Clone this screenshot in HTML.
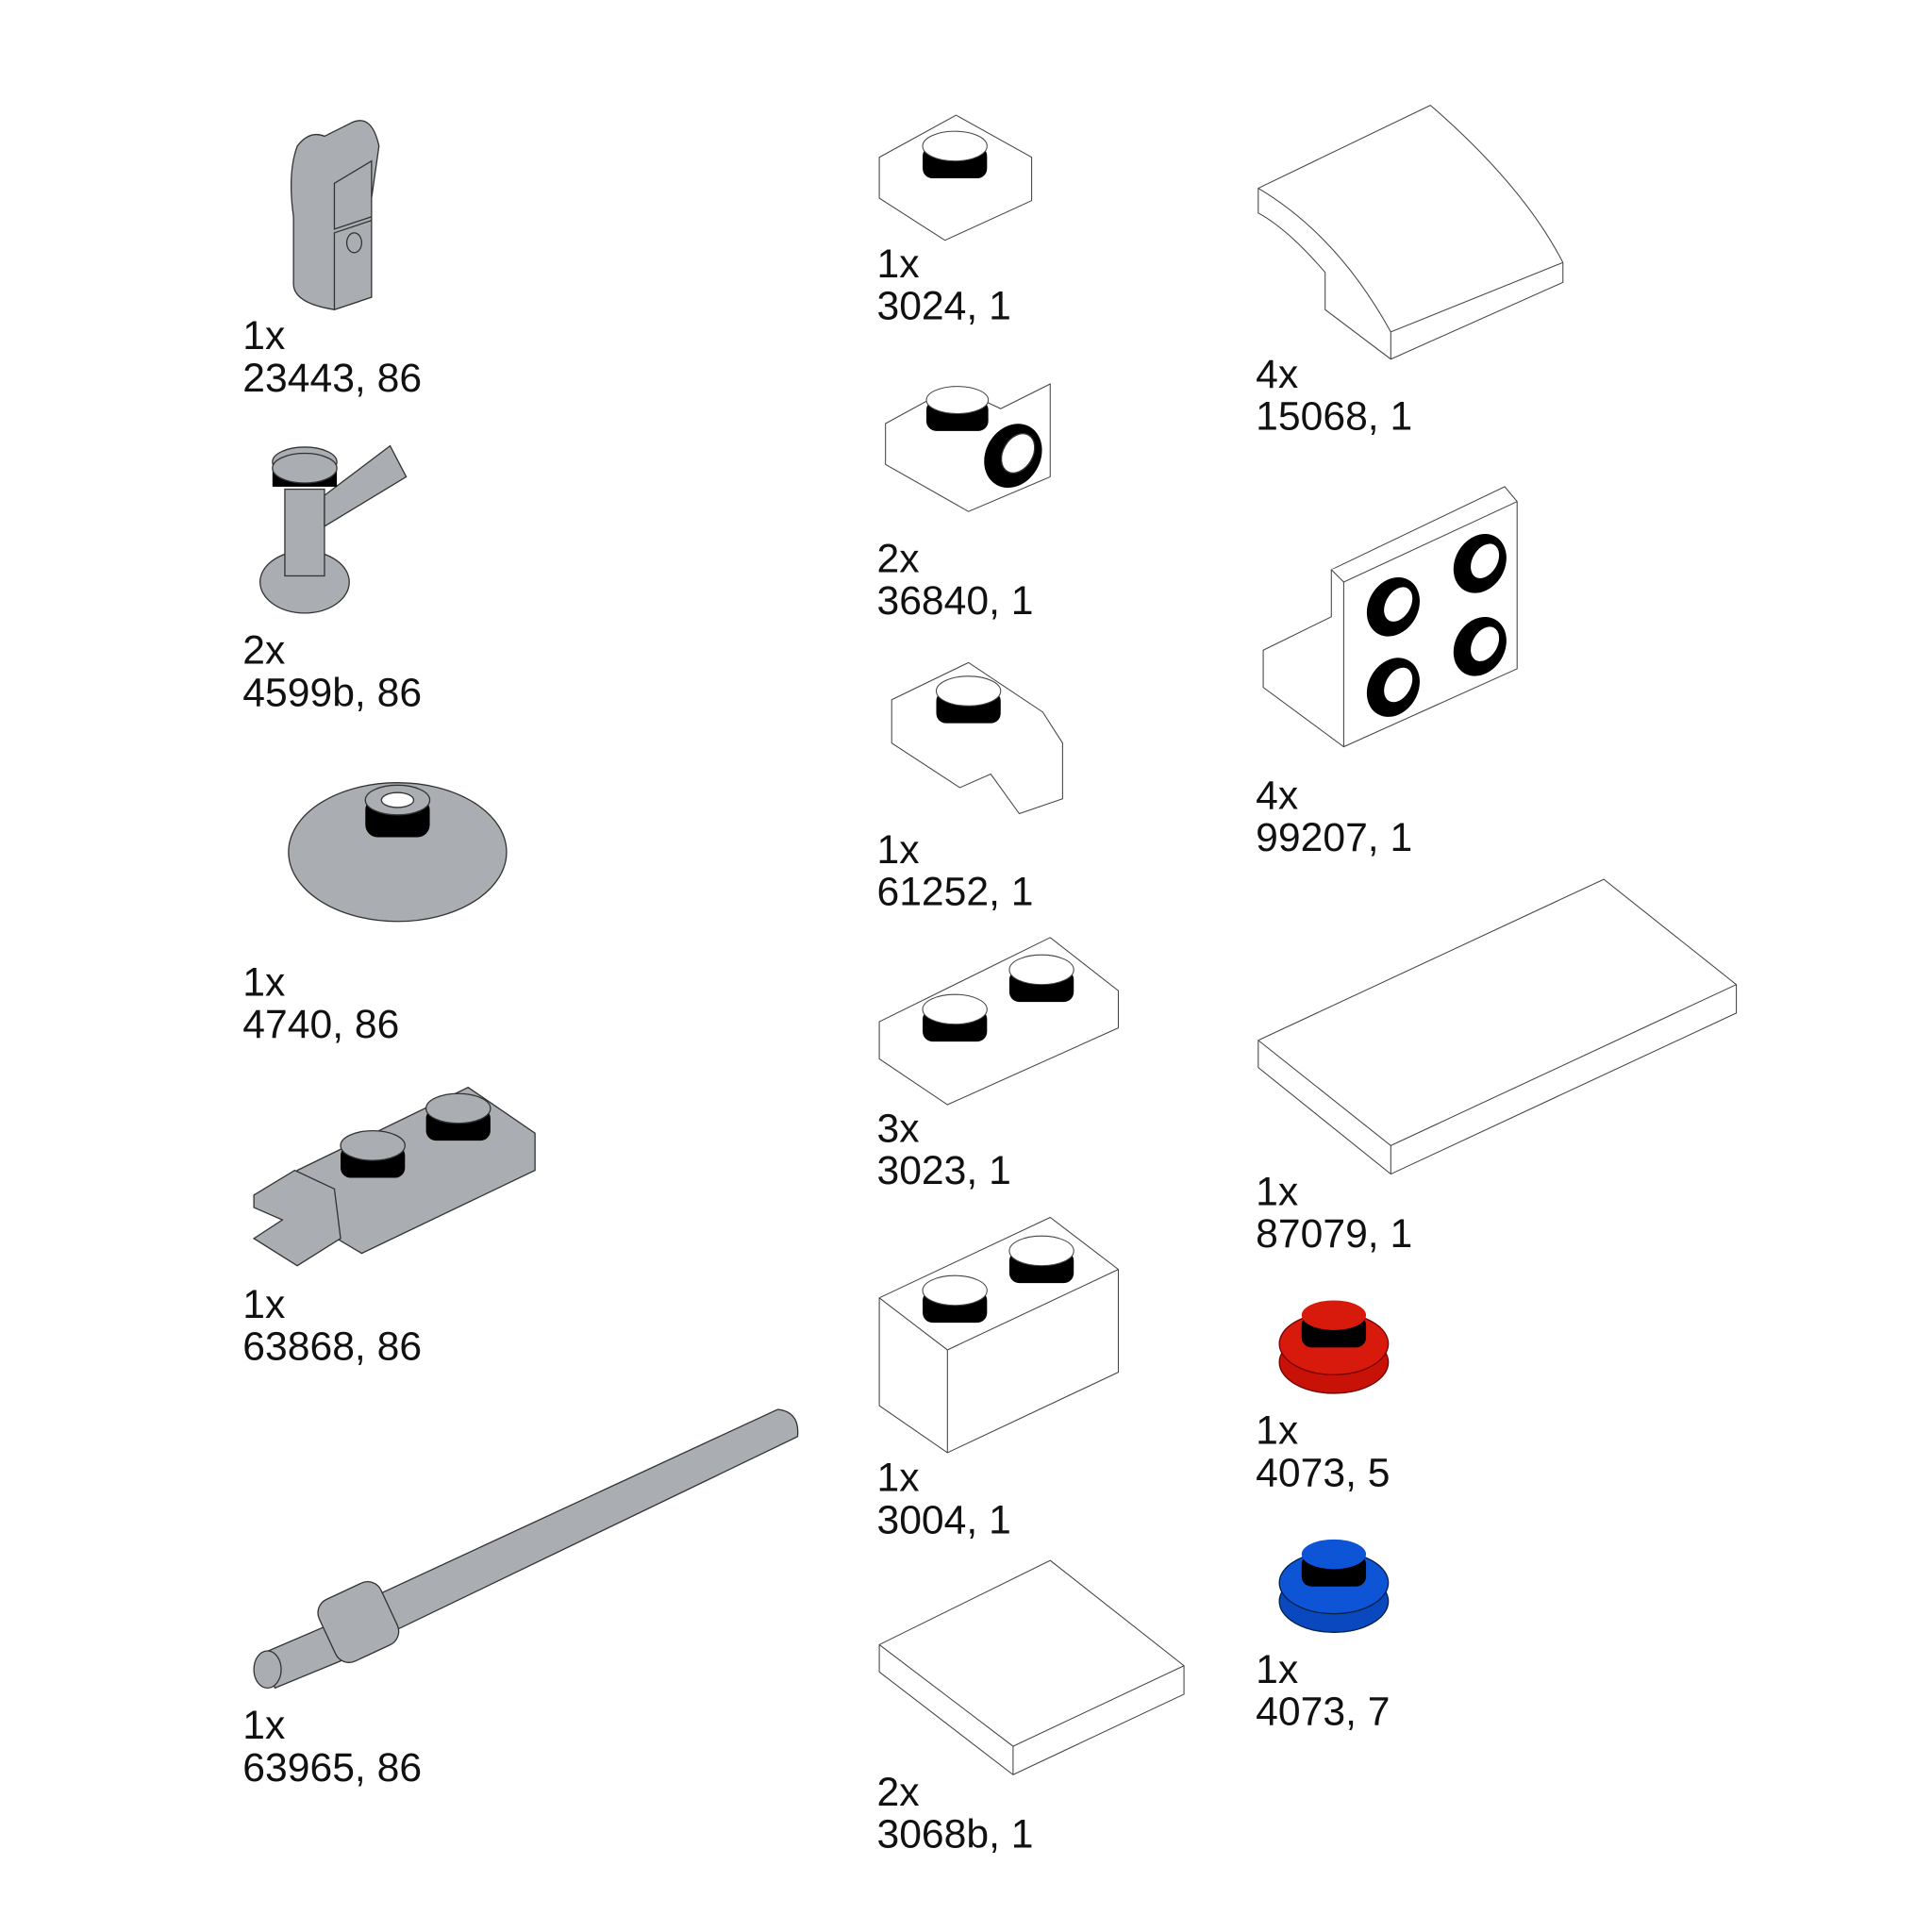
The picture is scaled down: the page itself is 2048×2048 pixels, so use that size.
<!DOCTYPE html>
<html><head><meta charset="utf-8"><style>
html,body{margin:0;padding:0;background:#fff}
svg{display:block}
text{font-family:"Liberation Sans",Arial,sans-serif;font-size:32.5px;fill:#111}
.g{fill:#aaaeb2;stroke:#333;stroke-width:1}
.w{fill:#fff;stroke:#444;stroke-width:0.8}
.k{fill:#000}
</style></head><body>
<svg width="2048" height="2048" viewBox="0 0 1560 1560" xmlns="http://www.w3.org/2000/svg">
<g transform="translate(-1,-3)">
<text x="197" y="285">1x</text><text x="197" y="319">23443, 86</text>
<text x="197" y="539">2x</text><text x="197" y="573">4599b, 86</text>
<text x="197" y="807">1x</text><text x="197" y="841">4740, 86</text>
<text x="197" y="1067">1x</text><text x="197" y="1101">63868, 86</text>
<text x="197" y="1407">1x</text><text x="197" y="1441">63965, 86</text>
<text x="709" y="227">1x</text><text x="709" y="261">3024, 1</text>
<text x="709" y="465">2x</text><text x="709" y="499">36840, 1</text>
<text x="709" y="700">1x</text><text x="709" y="734">61252, 1</text>
<text x="709" y="925">3x</text><text x="709" y="959">3023, 1</text>
<text x="709" y="1207">1x</text><text x="709" y="1241">3004, 1</text>
<text x="709" y="1461">2x</text><text x="709" y="1495">3068b, 1</text>
<text x="1015" y="316">4x</text><text x="1015" y="350">15068, 1</text>
<text x="1015" y="656">4x</text><text x="1015" y="690">99207, 1</text>
<text x="1015" y="976">1x</text><text x="1015" y="1010">87079, 1</text>
<text x="1015" y="1169">1x</text><text x="1015" y="1203">4073, 5</text>
<text x="1015" y="1362">1x</text><text x="1015" y="1396">4073, 7</text>
</g>

<!-- 23443 -->
<path class="g" d="M240,118 Q250,105 262,110 L282,100 Q300,90 306,118 L300,160 L300,240 L270,250 Q238,245 237,230 L237,175 Q232,140 240,118Z"/>
<path class="g" d="M270,148 L300,130 L300,175 L270,185Z"/>
<path class="g" d="M270,188 L300,178 L300,240 L270,250Z"/>
<ellipse class="g" cx="286" cy="196" rx="6" ry="8"/>

<!-- 4599b -->
<ellipse class="g" cx="246" cy="470" rx="36" ry="25"/>
<rect class="g" x="230" y="395" width="32" height="70"/>
<path class="g" d="M262,400 L315,360 L328,385 L262,425Z"/>
<ellipse class="g" cx="246" cy="373" rx="26" ry="12"/>
<rect class="k" x="220" y="380" width="52" height="13"/>
<ellipse class="g" cx="246" cy="378" rx="26" ry="12"/>

<!-- 4740 dish -->
<ellipse class="g" cx="321" cy="688" rx="88" ry="56"/>
<rect class="k" x="295" y="644" width="52" height="32" rx="10"/>
<ellipse class="g" cx="321" cy="646" rx="26" ry="12"/>
<ellipse cx="321" cy="646" rx="13" ry="6" fill="#fff" stroke="#333"/>

<!-- 63868 -->
<path class="g" d="M240,945 L378,878 L432,915 L432,945 L292,1012 L238,980Z"/>
<path class="g" d="M205,965 L238,945 L270,960 L275,1000 L240,1022 L205,1000 L228,985 L205,975Z"/>
<rect class="k" x="275" y="925" width="52" height="26" rx="8"/>
<ellipse class="g" cx="301" cy="925" rx="26" ry="12"/>
<rect class="k" x="344" y="895" width="52" height="26" rx="8"/>
<ellipse class="g" cx="370" cy="895" rx="26" ry="12"/>

<!-- 63965 bar -->
<path class="g" d="M300,1290 L628,1138 Q646,1140 644,1160 L316,1318Z"/>
<path class="g" d="M212,1335 L275,1308 L290,1335 L222,1363Z"/>
<rect class="g" x="262" y="1282" width="55" height="55" rx="12" transform="rotate(-25 290 1310)"/>
<ellipse class="g" cx="216" cy="1348" rx="11" ry="15"/>

<!-- 3024 -->
<path class="w" d="M710,127 L772,93 L833,127 L833,162 L763,194 L710,160Z"/>
<rect class="k" x="745" y="118" width="52" height="26" rx="8"/>
<ellipse class="w" cx="771" cy="118" rx="26" ry="12"/>

<!-- 36840 -->
<path class="w" d="M715,342 L770,312 L808,330 L848,310 L848,385 L782,413 L715,375Z"/>
<rect class="k" x="748" y="323" width="50" height="25" rx="8"/>
<ellipse class="w" cx="773" cy="323" rx="25" ry="11"/>
<ellipse class="k" cx="818" cy="368" rx="22" ry="27" transform="rotate(30 818 368)"/>
<ellipse cx="822" cy="366" rx="12" ry="17" fill="#fff" stroke="#333" transform="rotate(30 822 366)"/>

<!-- 61252 -->
<path class="w" d="M720,565 L782,535 L842,575 L858,600 L858,645 L823,657 L800,625 L775,636 L720,600Z"/>
<rect class="k" x="756" y="558" width="52" height="26" rx="8"/>
<ellipse class="w" cx="782" cy="558" rx="26" ry="12"/>

<!-- 3023 -->
<path class="w" d="M710,825 L848,757 L903,800 L903,830 L765,892 L710,855Z"/>
<rect class="k" x="745" y="815" width="52" height="26" rx="8"/>
<ellipse class="w" cx="771" cy="815" rx="26" ry="12"/>
<rect class="k" x="815" y="783" width="52" height="26" rx="8"/>
<ellipse class="w" cx="841" cy="783" rx="26" ry="12"/>

<!-- 3004 -->
<path class="w" d="M710,1048 L848,983 L903,1025 L903,1108 L765,1173 L710,1135Z"/>
<path class="w" d="M710,1048 L765,1090 L903,1025 M765,1090 L765,1173" fill="none"/>
<rect class="k" x="745" y="1042" width="52" height="26" rx="8"/>
<ellipse class="w" cx="771" cy="1042" rx="26" ry="12"/>
<rect class="k" x="815" y="1010" width="52" height="26" rx="8"/>
<ellipse class="w" cx="841" cy="1010" rx="26" ry="12"/>

<!-- 3068b -->
<path class="w" d="M710,1328 L848,1260 L956,1345 L956,1368 L818,1433 L710,1350Z"/>
<path class="w" d="M710,1328 L818,1410 L956,1345 M818,1410 L818,1433" fill="none"/>

<!-- 15068 -->
<path class="w" d="M1016,152 L1155,85 Q1230,150 1262,212 L1262,228 L1123,290 L1070,250 L1070,220 Q1040,185 1016,172Z"/>
<path class="w" d="M1016,152 Q1080,190 1123,268 L1262,212 M1123,268 L1123,290" fill="none"/>

<!-- 99207 -->
<path class="w" d="M1020,525 L1075,498 L1075,460 L1215,393 L1225,405 L1225,540 L1085,603 L1020,555Z"/>
<path class="w" d="M1075,460 L1085,470 L1225,405 M1085,470 L1085,603" fill="none"/>
<g>
<ellipse class="k" cx="1125" cy="490" rx="20" ry="25" transform="rotate(30 1125 490)"/><ellipse cx="1129" cy="488" rx="10" ry="15" fill="#fff" transform="rotate(30 1129 488)"/>
<ellipse class="k" cx="1195" cy="455" rx="20" ry="25" transform="rotate(30 1195 455)"/><ellipse cx="1199" cy="453" rx="10" ry="15" fill="#fff" transform="rotate(30 1199 453)"/>
<ellipse class="k" cx="1125" cy="555" rx="20" ry="25" transform="rotate(30 1125 555)"/><ellipse cx="1129" cy="553" rx="10" ry="15" fill="#fff" transform="rotate(30 1129 553)"/>
<ellipse class="k" cx="1195" cy="522" rx="20" ry="25" transform="rotate(30 1195 522)"/><ellipse cx="1199" cy="520" rx="10" ry="15" fill="#fff" transform="rotate(30 1199 520)"/>
</g>

<!-- 87079 -->
<path class="w" d="M1016,840 L1295,710 L1402,795 L1402,818 L1123,948 L1016,862Z"/>
<path class="w" d="M1016,840 L1123,925 L1402,795 M1123,925 L1123,948" fill="none"/>

<!-- 4073 red -->
<ellipse cx="1077" cy="1100" rx="44" ry="25" fill="#c81208" stroke="#700"/>
<ellipse cx="1077" cy="1085" rx="44" ry="25" fill="#d81a0c" stroke="#700"/>
<rect class="k" x="1051" y="1062" width="52" height="26" rx="8"/>
<ellipse cx="1077" cy="1062" rx="26" ry="12" fill="#d81a0c"/>

<!-- 4073 blue -->
<ellipse cx="1077" cy="1293" rx="44" ry="25" fill="#0a48c0" stroke="#024"/>
<ellipse cx="1077" cy="1278" rx="44" ry="25" fill="#0d55d6" stroke="#024"/>
<rect class="k" x="1051" y="1255" width="52" height="26" rx="8"/>
<ellipse cx="1077" cy="1255" rx="26" ry="12" fill="#0d55d6"/>
</svg>
</body></html>
